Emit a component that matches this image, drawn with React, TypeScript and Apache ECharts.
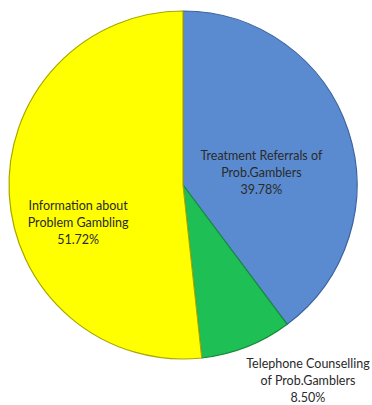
import React, { useEffect, useRef } from "react";
import * as echarts from "echarts";

const categories = [
  "Treatment Referrals of\nProb.Gamblers",
  "Telephone Counselling\nof Prob.Gamblers",
  "Information about\nProblem Gambling",
];
const values = [39.78, 8.5, 51.72];
const sliceColors = ["#5A8BD0", "#1EC055", "#FFFF00"];
const borderColors = ["#3D63A0", "#178A3C", "#A8A800"];
const labelShift = [
  [-7, 16],
  [92, 112],
  [-15, 33],
];

export default function App() {
  const ref = useRef<HTMLDivElement>(null);
  useEffect(() => {
    if (!ref.current) return;
    const chart = echarts.init(ref.current, null, { renderer: "svg" });
    chart.setOption({
      animation: false,
      backgroundColor: "#ffffff",
      series: [
        {
          type: "pie",
          center: [183, 185],
          radius: 174,
          startAngle: 90,
          clockwise: true,
          avoidLabelOverlap: false,
          label: {
            show: true,
            position: "inside",
            formatter: (p: any) => `${p.name}\n${p.value.toFixed(2)}%`,
            fontFamily: "Lato, 'Open Sans', sans-serif",
            fontSize: 12.5,
            lineHeight: 17,
            color: "#2a2a2a",
            align: "center",
          },
          labelLine: { show: false },
          labelLayout: (params: any) => {
            const s = labelShift[params.dataIndex];
            return { dx: s[0], dy: s[1] };
          },
          emphasis: { disabled: true },
          data: categories.map((name, i) => ({
            name,
            value: values[i],
            itemStyle: {
              color: sliceColors[i],
              borderColor: borderColors[i],
              borderWidth: 1.2,
            },
          })),
        },
      ],
    });
    return () => chart.dispose();
  }, []);
  return (
    <div
      ref={ref}
      style={{ position: "fixed", left: 0, top: 0, width: 372, height: 405 }}
    />
  );
}
